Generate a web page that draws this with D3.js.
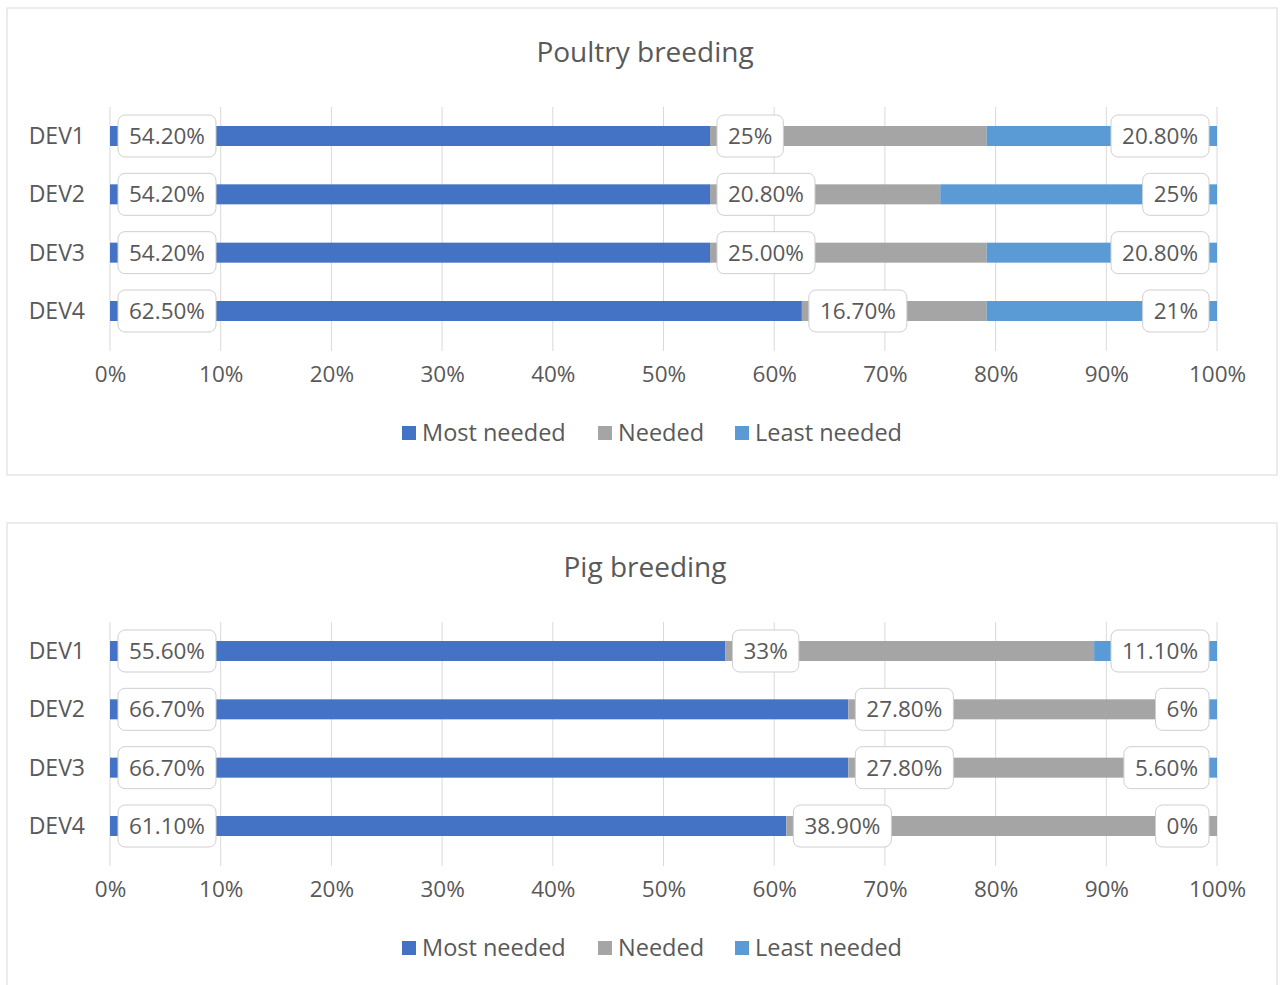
<!DOCTYPE html>
<html>
<head>
<meta charset="utf-8">
<script src="https://cdn.jsdelivr.net/npm/d3@7"></script>
<style>
  body { margin: 0; background: #fff; }
  svg text { font-family: "Open Sans", "Noto Sans", sans-serif; fill: #595959; }
</style>
</head>
<body>
<svg id="chart" width="1280" height="985"></svg>
<script>
// categories and series
const devices = ["DEV1", "DEV2", "DEV3", "DEV4"]
const seriesNames = ["Most needed", "Needed", "Least needed"]
const colors = ["#4472C4", "#A5A5A5", "#5B9BD5"]
const tickValues = [0, 10, 20, 30, 40, 50, 60, 70, 80, 90, 100]

// poultry breeding
const poultryMost = [54.2, 54.2, 54.2, 62.5]
const poultryNeeded = [25, 20.8, 25, 16.7]
const poultryLeast = [20.8, 25, 20.8, 20.8]
const poultryMostLabels = ["54.20%", "54.20%", "54.20%", "62.50%"]
const poultryNeededLabels = ["25%", "20.80%", "25.00%", "16.70%"]
const poultryLeastLabels = ["20.80%", "25%", "20.80%", "21%"]

// pig breeding
const pigMost = [55.6, 66.7, 66.7, 61.1]
const pigNeeded = [33.3, 27.8, 27.8, 38.9]
const pigLeast = [11.1, 5.5, 5.5, 0]
const pigMostLabels = ["55.60%", "66.70%", "66.70%", "61.10%"]
const pigNeededLabels = ["33%", "27.80%", "27.80%", "38.90%"]
const pigLeastLabels = ["11.10%", "6%", "5.60%", "0%"]

const svg = d3.select("#chart")

const x = d3.scaleLinear([0, 100], [110, 1217])
const y = d3.scalePoint(devices, [136, 311])
const barH = 20

function drawPanel(offset, title, values, labels) {
  const g = svg.append("g").attr("transform", `translate(0, ${offset})`)

  // panel frame
  g.append("rect")
    .attr("x", 7).attr("y", 8)
    .attr("width", 1270).attr("height", 467)
    .attr("fill", "#fff")
    .attr("stroke", "#d9d9d9")

  g.append("text")
    .attr("x", 645).attr("y", 62)
    .attr("text-anchor", "middle")
    .attr("font-size", 28)
    .text(title)

  // gridlines
  g.append("g").selectAll("line")
    .data(tickValues)
    .join("line")
    .attr("x1", d => x(d)).attr("x2", d => x(d))
    .attr("y1", 107).attr("y2", 351)
    .attr("stroke", "#d9d9d9")

  // x axis labels
  const xAxis = d3.axisBottom(x)
    .tickValues(tickValues)
    .tickFormat(d => d + "%")
    .tickSize(0)
    .tickPadding(0)
  const ax = g.append("g")
    .attr("transform", "translate(0, 366)")
    .call(xAxis)
  ax.select(".domain").remove()
  ax.selectAll("text")
    .attr("font-size", 22.5)
    .attr("font-family", null)
    .attr("fill", null)

  // category labels
  g.append("g").selectAll("text")
    .data(devices)
    .join("text")
    .attr("x", 85)
    .attr("y", d => y(d))
    .attr("dy", "0.35em")
    .attr("text-anchor", "end")
    .attr("font-size", 23)
    .text(d => d)

  // stacked bars
  const rows = devices.map((d, i) => ({dev: d, v: values.map(s => s[i])}))
  const stack = d3.stack().keys([0, 1, 2]).value((r, k) => r.v[k])(rows)

  stack.forEach((layer, k) => {
    g.append("g").selectAll("rect")
      .data(layer)
      .join("rect")
      .attr("x", d => x(d[0]))
      .attr("width", d => x(d[1]) - x(d[0]))
      .attr("y", d => y(d.data.dev) - barH / 2)
      .attr("height", barH)
      .attr("fill", colors[k])
  })

  // data labels in rounded boxes
  stack.forEach((layer, k) => {
    layer.forEach((d, i) => {
      const lg = g.append("g")
      const t = lg.append("text")
        .attr("y", y(d.data.dev))
        .attr("dy", "0.35em")
        .attr("font-size", 22.5)
        .text(labels[k][i])
      const w = t.node().getComputedTextLength()
      const boxW = w + 22
      let left
      if (k === 0) left = x(d[0]) + 8
      else if (k === 1) left = x(d[0]) + 7
      else left = x(100) - 8 - boxW
      t.attr("x", left + 11)
      lg.insert("rect", "text")
        .attr("x", left)
        .attr("y", y(d.data.dev) - 21)
        .attr("width", boxW)
        .attr("height", 42)
        .attr("rx", 7)
        .attr("fill", "#fff")
        .attr("stroke", "#cfcfcf")
    })
  })

  // legend
  const legendX = [402, 598, 735]
  const lgd = g.append("g").selectAll("g")
    .data(seriesNames)
    .join("g")
    .attr("transform", (d, i) => `translate(${legendX[i]}, 433)`)
  lgd.append("rect")
    .attr("x", 0).attr("y", -7)
    .attr("width", 14).attr("height", 14)
    .attr("fill", (d, i) => colors[i])
  lgd.append("text")
    .attr("x", 20)
    .attr("dy", "0.35em")
    .attr("font-size", 23.5)
    .text(d => d)
}

drawPanel(0, "Poultry breeding",
  [poultryMost, poultryNeeded, poultryLeast],
  [poultryMostLabels, poultryNeededLabels, poultryLeastLabels])

drawPanel(515, "Pig breeding",
  [pigMost, pigNeeded, pigLeast],
  [pigMostLabels, pigNeededLabels, pigLeastLabels])
</script>
</body>
</html>
